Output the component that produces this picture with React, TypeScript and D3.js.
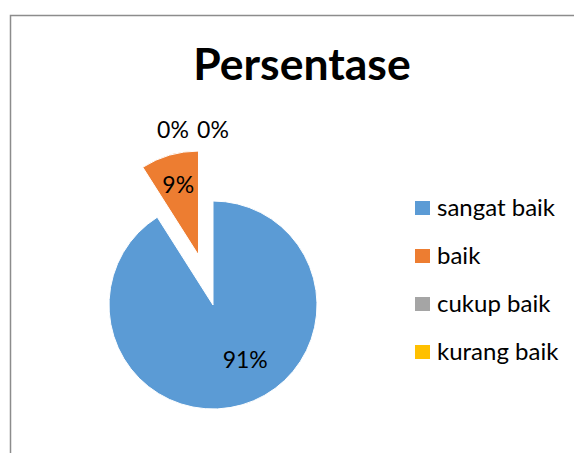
import * as React from 'react';
import { arc, pie, PieArcDatum } from 'd3';

// chart data
const categories = ['sangat baik', 'baik', 'cukup baik', 'kurang baik'];
const values = [91, 9, 0, 0];
const percentLabels = ['91%', '9%', '0%', '0%'];
const colors = ['#5B9BD5', '#ED7D31', '#A5A5A5', '#FFC000'];
const explodedIndex = 1;

const width = 574;
const height = 453;
const cx = 213;
const cy = 305;
const radius = 104;
const explodeBy = 0.5; // excel "point explosion"

const App = () => {
    const pieGen = pie<number>().sort(null).value((d) => d);
    const arcs = pieGen(values);
    const arcGen = arc<PieArcDatum<number>>().innerRadius(0).outerRadius(radius);

    const offsetOf = (d: PieArcDatum<number>, dist: number) => {
        const a = (d.startAngle + d.endAngle) / 2;
        return [Math.sin(a) * dist, -Math.cos(a) * dist];
    };

    const zeroArcs = arcs.filter((d) => d.value === 0);

    return (
        <div style={{ position: 'fixed', left: 0, top: 0, background: 'white' }}>
            <svg width={width} height={height} style={{ display: 'block' }}>
                <rect x={0} y={0} width={width} height={height} fill="white" />
                <path d={`M10.5,${height}V15.5H${width}`} fill="none" stroke="#8c8c8c" strokeWidth={1.5} />

                <text x={302} y={80} textAnchor="middle" fontFamily="Lato" fontWeight="bold" fontSize={44.5} fill="#000">
                    Persentase
                </text>

                <g transform={`translate(${cx},${cy})`}>
                    {arcs.map((d, i) => {
                        if (d.value === 0) return null;
                        const [ox, oy] = i === explodedIndex ? offsetOf(d, radius * explodeBy) : [0, 0];
                        return (
                            <path key={i} d={arcGen(d) || ''} fill={colors[i]} stroke="white" strokeWidth={1}
                                transform={`translate(${ox},${oy})`} />
                        );
                    })}
                    {arcs.map((d, i) => {
                        if (d.value === 0) return null;
                        const exploded = i === explodedIndex;
                        const [ox, oy] = exploded ? offsetOf(d, radius * explodeBy) : [0, 0];
                        // best-fit style placement
                        const shift = exploded ? 0 : -0.25;
                        const a = (d.startAngle + d.endAngle) / 2 + shift;
                        const r = radius * (exploded ? 0.7 : 0.61);
                        const lx = ox + Math.sin(a) * r;
                        const ly = oy - Math.cos(a) * r;
                        return (
                            <text key={'l' + i} x={lx} y={ly} dy="0.35em" textAnchor="middle"
                                fontFamily="Lato" fontSize={23} fill="#000">
                                {percentLabels[i]}
                            </text>
                        );
                    })}
                    {zeroArcs.map((d, j) => {
                        const i = arcs.indexOf(d);
                        const [ox, oy] = offsetOf(d, radius + 71);
                        const lx = ox - (zeroArcs.length - 1 - j) * 40;
                        return (
                            <text key={'z' + i} x={lx} y={oy} dy="0.35em" textAnchor="middle"
                                fontFamily="Lato" fontSize={23} fill="#000">
                                {percentLabels[i]}
                            </text>
                        );
                    })}
                </g>

                <g transform="translate(415,208)">
                    {categories.map((c, i) => (
                        <g key={c} transform={`translate(0,${i * 48})`}>
                            <rect x={0} y={-7} width={15} height={14} fill={colors[i]} />
                            <text x={22} y={0} dy="0.35em" fontFamily="Lato" fontSize={24} fill="#000">{c}</text>
                        </g>
                    ))}
                </g>
            </svg>
        </div>
    );
};

export default App;
